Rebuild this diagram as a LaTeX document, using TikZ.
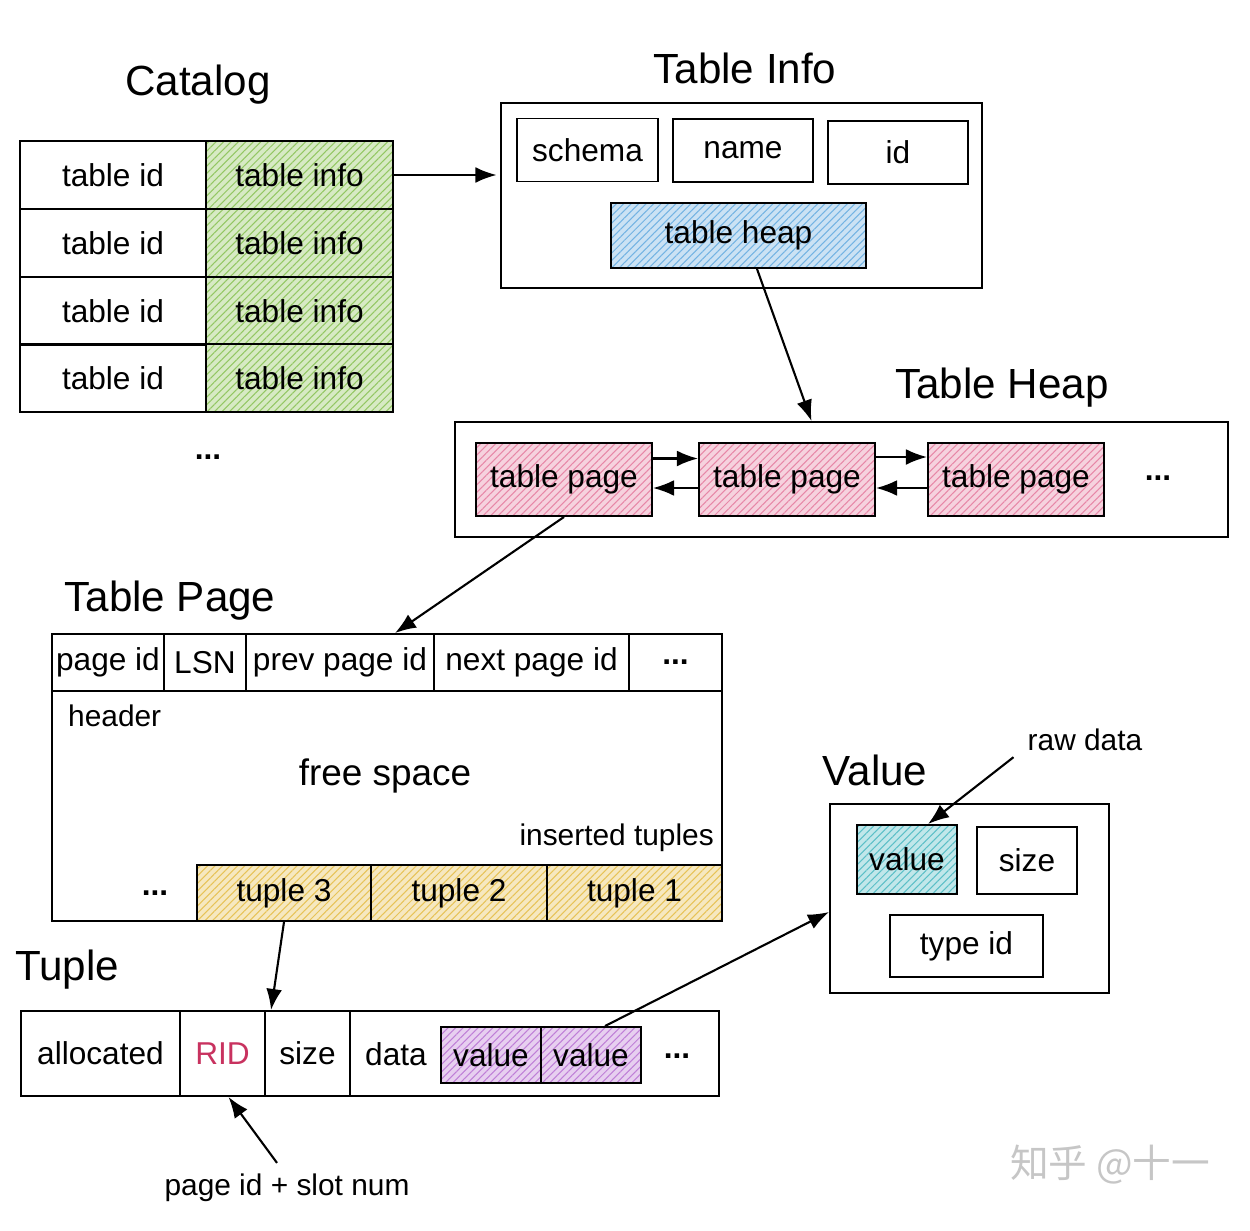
\documentclass[tikz,border=0pt]{standalone}
\usepackage{fontspec}
\setmainfont{Liberation Sans}
\newfontfamily\cjkfont{Noto Sans CJK SC}
\usetikzlibrary{arrows.meta,patterns.meta}

\definecolor{infogreen}{RGB}{120,185,60}
\definecolor{heapblue}{RGB}{80,160,220}
\definecolor{pagepink}{RGB}{225,105,145}
\definecolor{tupleyellow}{RGB}{225,180,45}
\definecolor{valpurple}{RGB}{175,95,205}
\definecolor{rawcyan}{RGB}{50,175,185}
\definecolor{ridred}{RGB}{200,50,95}

\tikzset{
    cell/.style={draw, line width=1.1pt, inner sep=0pt, font=\fontsize{18}{20}\selectfont},
    hatch/.style={preaction={fill=#1!30}, pattern={Lines[angle=45,distance=3pt,line width=0.6pt]}, pattern color=#1!80},
    title/.style={font=\fontsize{24}{28}\selectfont},
    label/.style={font=\fontsize{17}{20}\selectfont},
    dots/.style={font=\bfseries\fontsize{18}{20}\selectfont},
    link/.style={->, line width=1.2pt}
}

\begin{document}
\begin{tikzpicture}[x=0.02cm, y=-0.02cm, >={Latex[length=12pt,width=9pt]}]
    \useasboundingbox (0,0) rectangle (1250,1230);

    % Draw the catalog
    \node[title] (catalogtitle) at (198,85) {Catalog};
    \node[cell, minimum width=3.72cm, minimum height=1.36cm] (id1) at (113,175) {table id};
    \node[cell, minimum width=3.72cm, minimum height=1.36cm] (id2) at (113,243) {table id};
    \node[cell, minimum width=3.72cm, minimum height=1.36cm] (id3) at (113,311) {table id};
    \node[cell, minimum width=3.72cm, minimum height=1.36cm] (id4) at (113,378) {table id};
    \node[cell, hatch=infogreen, minimum width=3.74cm, minimum height=1.36cm] (info1) at (299.5,175) {table info};
    \node[cell, hatch=infogreen, minimum width=3.74cm, minimum height=1.36cm] (info2) at (299.5,243) {table info};
    \node[cell, hatch=infogreen, minimum width=3.74cm, minimum height=1.36cm] (info3) at (299.5,311) {table info};
    \node[cell, hatch=infogreen, minimum width=3.74cm, minimum height=1.36cm] (info4) at (299.5,378) {table info};
    \node[dots] (catalogdots) at (208,457) {...};

    % Draw the table info
    \node[title] (tinfotitle) at (745,68) {Table Info};
    \node[cell, minimum width=9.62cm, minimum height=3.7cm] (tinfo) at (741.5,195.5) {};
    \node[cell, minimum width=2.82cm, minimum height=1.26cm] (schema) at (587.5,150) {schema};
    \node[cell, minimum width=2.8cm, minimum height=1.26cm] (name) at (743,150.5) {name};
    \node[cell, minimum width=2.8cm, minimum height=1.26cm] (tid) at (898,152.5) {id};
    \node[cell, hatch=heapblue, minimum width=5.1cm, minimum height=1.3cm] (theap) at (738.5,235.5) {table heap};

    % Draw the table heap
    \node[title] (heaptitle) at (1002,388) {Table Heap};
    \node[cell, minimum width=15.46cm, minimum height=2.3cm] (heap) at (841.5,479.5) {};
    \node[cell, hatch=pagepink, minimum width=3.52cm, minimum height=1.46cm] (page1) at (564,479.5) {table page};
    \node[cell, hatch=pagepink, minimum width=3.52cm, minimum height=1.46cm] (page2) at (787,479.5) {table page};
    \node[cell, hatch=pagepink, minimum width=3.52cm, minimum height=1.46cm] (page3) at (1016,479.5) {table page};
    \node[dots] (heapdots) at (1158,478) {...};

    % Draw the table page
    \node[title] (pagetitle) at (170,601) {Table Page};
    \node[cell, minimum width=13.4cm, minimum height=5.74cm] (tpage) at (387,777.5) {};
    \node[cell, minimum width=2.24cm, minimum height=1.14cm] (pageid) at (108,662.5) {page id};
    \node[cell, minimum width=1.64cm, minimum height=1.14cm] (lsn) at (205,662.5) {LSN};
    \node[cell, minimum width=3.76cm, minimum height=1.14cm] (previd) at (340,662.5) {prev page id};
    \node[cell, minimum width=3.9cm, minimum height=1.14cm] (nextid) at (531.5,662.5) {next page id};
    \node[cell, dots, minimum width=1.86cm, minimum height=1.14cm] (headdots) at (675.5,662.5) {...};
    \node[label, anchor=west] (header) at (62,716) {header};
    \node[font=\fontsize{21}{24}\selectfont] (free) at (385,776) {free space};
    \node[label, anchor=east] (inserted) at (720,838) {inserted tuples};
    \node[dots] (tupledots) at (155,893) {...};
    \node[cell, hatch=tupleyellow, minimum width=3.48cm, minimum height=1.12cm] (tuple3) at (284,893) {tuple 3};
    \node[cell, hatch=tupleyellow, minimum width=3.52cm, minimum height=1.12cm] (tuple2) at (459,893) {tuple 2};
    \node[cell, hatch=tupleyellow, minimum width=3.5cm, minimum height=1.12cm] (tuple1) at (634.5,893) {tuple 1};

    % Draw the tuple
    \node[title] (tupletitle) at (67,970) {Tuple};
    \node[cell, minimum width=13.96cm, minimum height=1.7cm] (tuple) at (370,1053.5) {};
    \node[cell, minimum width=3.18cm, minimum height=1.7cm] (alloc) at (100.5,1053.5) {allocated};
    \node[cell, text=ridred, minimum width=1.7cm, minimum height=1.7cm] (rid) at (222.5,1053.5) {RID};
    \node[cell, minimum width=1.7cm, minimum height=1.7cm] (tsize) at (307.5,1053.5) {size};
    \node[font=\fontsize{18}{20}\selectfont] (data) at (396,1054) {data};
    \node[cell, hatch=valpurple, minimum width=2cm, minimum height=1.12cm] (value1) at (491,1055) {value};
    \node[cell, hatch=valpurple, minimum width=2cm, minimum height=1.12cm] (value2) at (591,1055) {value};
    \node[dots] (valuedots) at (677,1056) {...};
    \node[label] (slot) at (287,1188) {page id + slot num};

    % Draw the value
    \node[title] (valuetitle) at (875,770) {Value};
    \node[cell, minimum width=5.58cm, minimum height=3.78cm] (vbox) at (969.5,898.5) {};
    \node[cell, hatch=rawcyan, minimum width=2cm, minimum height=1.38cm] (vvalue) at (907,859.5) {value};
    \node[cell, minimum width=2cm, minimum height=1.34cm] (vsize) at (1027,860.5) {size};
    \node[cell, minimum width=3.06cm, minimum height=1.24cm] (typeid) at (966.5,946) {type id};
    \node[label] (raw) at (1085,740) {raw data};

    % Draw connections
    \draw[link] (info1.east) -- ([xshift=-2pt]info1.east -| tinfo.west);
    \draw[link] ([xshift=0.37cm]theap.south) -- ([xshift=-0.6cm]heap.north);
    \draw[link] ([yshift=0.42cm]page1.east) -- ([yshift=0.42cm]page2.west);
    \draw[link] ([yshift=-0.17cm]page2.west) -- ([yshift=-0.17cm]page1.east);
    \draw[link] ([yshift=0.45cm]page2.east) -- ([yshift=0.45cm]page3.west);
    \draw[link] ([yshift=-0.17cm]page3.west) -- ([yshift=-0.17cm]page2.east);
    \draw[link] (page1.south) -- ([xshift=0.16cm]tpage.north);
    \draw[link] (tuple3.south) -- ([xshift=0.14cm]tsize.north west);
    \draw[link] ([xshift=-0.2cm,yshift=0.1cm]slot.north) -- ([xshift=0.12cm]rid.south);
    \draw[link] ([xshift=0.28cm]value2.north) -- ([yshift=-0.27cm]vbox.west);
    \draw[link] ([xshift=-0.16cm]raw.south west) -- ([xshift=0.42cm]vvalue.north);

    % Watermark
    \node[text=gray!45, font=\cjkfont\fontsize{22}{26}\selectfont] (mark) at (1110,1165) {知乎 @十一};

\end{tikzpicture}
\end{document}
